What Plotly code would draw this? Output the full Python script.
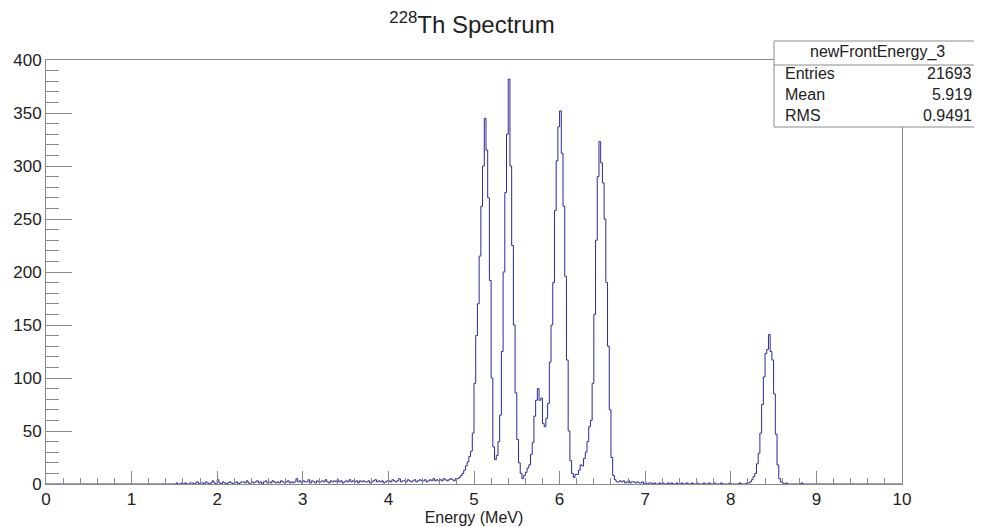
import numpy as np
import plotly.graph_objects as go

# Histogram: 500 bins of 0.02 MeV between 0 and 10 MeV
E_MIN = 0.0
E_MAX = 10.0
counts = [
    0,0,0,0,0, 0,0,0,0,0,   # 0.0
    0,0,0,0,0, 0,0,0,0,0,
    0,0,0,0,0, 0,0,0,0,0,
    0,0,0,0,0, 0,0,0,0,0,
    0,0,0,0,0, 0,0,0,0,0,   # 0.8
    0,0,0,0,0, 0,0,0,0,0,
    0,0,0,0,0, 0,0,0,0,0,
    0,0,0,0,0, 0,1,0,0,1,
    0,1,0,0,1, 1,0,1,2,0,   # 1.6
    1,1,0,2,1, 0,1,3,1,0,
    4,1,0,2,1, 0,1,2,1,0,   # 2.0
    1,2,0,1,2, 2,1,3,1,0,
    2,1,2,3,1, 2,0,2,3,1,
    2,1,3,2,1, 2,1,3,2,1,
    2,3,1,2,1, 2,5,2,3,1,
    3,2,2,4,1, 3,2,1,3,2,   # 3.0
    2,3,2,4,2, 1,3,2,3,2,
    4,2,3,1,2, 3,2,4,2,3,
    2,3,1,3,2, 3,2,2,3,1,
    2,3,4,2,3, 2,3,1,2,3,
    3,2,4,3,2, 3,5,2,3,3,   # 4.0
    2,4,3,2,3, 4,2,3,4,3,
    3,4,2,3,4, 3,5,3,4,3,
    4,3,5,4,3, 4,5,4,3,5,
    5,6,8,10,13, 17,21,26,31,48,
    95,140,170,215,262, 300,345,315,270,192,   # 5.0
    100,35,23,27,40, 65,125,200,275,330,
    382,300,225,150,86, 42,20,10,5,8,
    11,15,18,28,39, 64,79,90,79,81,
    57,54,62,76,115, 150,190,258,305,337,
    352,312,262,196,117, 50,22,10,6,9,         # 6.0
    9,13,18,17,24, 30,40,54,60,95,
    160,230,290,323,303, 284,250,190,130,70,
    25,8,4,2,2, 3,2,3,1,2,
    3,1,2,2,1, 2,1,1,2,0,
    1,0,1,1,0, 1,0,0,1,0,   # 7.0
    1,0,0,1,0, 1,0,0,1,0,
    0,1,0,0,1, 0,0,1,0,0,
    1,0,0,0,1, 0,0,1,0,0,
    1,0,0,0,1, 0,0,0,0,1,
    0,0,0,0,0, 1,0,0,0,1,   # 8.0
    1,2,4,7,10, 19,29,48,75,101,
    123,127,141,125,117, 85,47,18,5,2,
    1,0,1,0,0, 0,0,0,0,0,
    0,1,0,0,0, 0,0,0,0,0,
    0,0,0,0,0, 0,0,0,0,0,   # 9.0
    0,0,0,0,0, 0,0,0,0,0,
    0,0,0,0,0, 0,0,0,0,0,
    0,0,0,0,0, 0,0,0,0,0,
    0,0,0,0,0, 0,0,0,0,0,
]

title_text = "<sup>228</sup>Th Spectrum"
x_title = "Energy (MeV)"
stats_name = "newFrontEnergy_3"
stats_labels = ["Entries", "Mean", "RMS"]
stats_values = ["21693", "5.919", "0.9491"]

edges = np.linspace(E_MIN, E_MAX, len(counts) + 1)
y_step = counts + [counts[-1]]

fig = go.Figure()
fig.add_trace(go.Scatter(
    x=edges, y=y_step, mode="lines", line_shape="hv",
    line=dict(color="#2a2a96", width=1), hoverinfo="skip"
))

FONT = "Liberation Sans, Arial, sans-serif"
AX = "#8a8a8a"
TXT = "#222222"

# page body has an 8px default margin; figure is sized to fill the remaining window
W, H = 974, 519
fig.update_layout(
    width=W, height=H,
    margin=dict(l=38, r=80, t=52, b=43, autoexpand=False),
    paper_bgcolor="white", plot_bgcolor="white",
    showlegend=False,
    font=dict(family=FONT, color=TXT),
    title=dict(text=title_text, x=(472 - 8) / W, xanchor="center",
               y=1 - 17 / H, yanchor="middle", yref="container",
               font=dict(size=24, family=FONT, color=TXT)),
)

fig.update_xaxes(
    range=[E_MIN, E_MAX], dtick=1, tick0=0,
    ticks="inside", ticklen=13, tickwidth=1, tickcolor=AX,
    minor=dict(ticks="inside", ticklen=6, dtick=0.2, tickcolor=AX, tickwidth=1),
    showline=True, linecolor=AX, linewidth=1, mirror=True,
    showgrid=False, zeroline=False, automargin=False,
    tickfont=dict(size=17, family=FONT, color=TXT),
    title=dict(text=x_title, font=dict(size=16, family=FONT, color=TXT), standoff=1),
)
fig.update_yaxes(
    range=[0, 400], dtick=50, tick0=0,
    ticks="inside", ticklen=26, tickwidth=1, tickcolor=AX,
    minor=dict(ticks="inside", ticklen=13, dtick=10, tickcolor=AX, tickwidth=1),
    showline=True, linecolor=AX, linewidth=1, mirror=True,
    showgrid=False, zeroline=False, automargin=False,
    tickfont=dict(size=17, family=FONT, color=TXT),
)

# stats box (paper coords relative to plot area: x 46..902 px, y 484..60 px on the page)
def px(xp):
    return (xp - 46) / 856.0

def py(yp):
    return (484 - yp) / 424.0

fig.add_shape(type="rect", xref="paper", yref="paper",
              x0=px(774), x1=px(980), y0=py(127), y1=py(41),
              fillcolor="white", line=dict(color=AX, width=1), layer="above")
fig.add_shape(type="line", xref="paper", yref="paper",
              x0=px(774), x1=px(980), y0=py(65), y1=py(65),
              line=dict(color=AX, width=1), layer="above")

fig.add_annotation(xref="paper", yref="paper", x=px(877), y=py(52),
                   text=stats_name, showarrow=False, xanchor="center", yanchor="middle",
                   font=dict(size=16, family=FONT, color=TXT))
row_y = [73, 94, 116]
for lab, val, yy in zip(stats_labels, stats_values, row_y):
    fig.add_annotation(xref="paper", yref="paper", x=px(783), y=py(yy),
                       text=lab, showarrow=False, xanchor="left", yanchor="middle",
                       font=dict(size=16, family=FONT, color=TXT))
    fig.add_annotation(xref="paper", yref="paper", x=px(974), y=py(yy),
                       text=val, showarrow=False, xanchor="right", yanchor="middle",
                       font=dict(size=16, family=FONT, color=TXT))

fig.write_html("out.html")
